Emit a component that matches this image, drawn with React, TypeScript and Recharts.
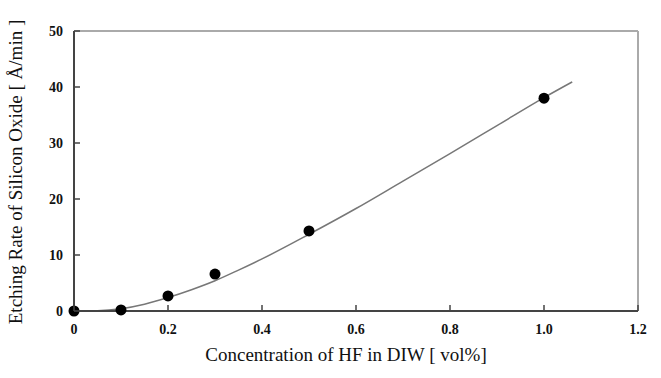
import {
  ComposedChart,
  Line,
  Scatter,
  XAxis,
  YAxis,
  ReferenceLine,
} from "recharts";

// measured points: HF concentration (vol%) vs etching rate (A/min)
const measuredConc = [0, 0.1, 0.2, 0.3, 0.5, 1.0];
const measuredRate = [0, 0.2, 2.7, 6.6, 14.3, 38.0];

// fitted curve
const fitConc = [0, 0.05, 0.1, 0.15, 0.2, 0.25, 0.3, 0.35, 0.4, 0.5, 0.6, 0.7, 0.8, 0.9, 1.0, 1.06];
const fitRate = [0, 0.05, 0.4, 1.2, 2.4, 3.8, 5.4, 7.3, 9.3, 13.7, 18.3, 23.2, 28.1, 33.1, 38.1, 40.9];

const xTicks = [0, 0.2, 0.4, 0.6, 0.8, 1.0, 1.2];
const xTickLabels = ["0", "0.2", "0.4", "0.6", "0.8", "1.0", "1.2"];
const yTicks = [0, 10, 20, 30, 40, 50];

const points = measuredConc.map((c, i) => ({ x: c, y: measuredRate[i] }));
const curve = fitConc.map((c, i) => ({ x: c, y: fitRate[i] }));

const FONT = "'Liberation Serif', 'Times New Roman', serif";
const AXIS = "#444";
const BOX = "#aaa";

function XTick(props: any) {
  const { x, y, payload } = props;
  const axisY = y - 13;
  const idx = xTicks.indexOf(payload.value);
  return (
    <g>
      <line x1={x} x2={x} y1={axisY} y2={axisY - 6} stroke={AXIS} strokeWidth={1.5} />
      <text x={x} y={y} dy="0.71em" textAnchor="middle" fontFamily={FONT} fontWeight="bold" fontSize={14} fill="#111">
        {idx >= 0 ? xTickLabels[idx] : payload.value}
      </text>
    </g>
  );
}

function YTick(props: any) {
  const { x, y, payload } = props;
  const axisX = x + 11;
  return (
    <g>
      <line x1={axisX} x2={axisX + 6} y1={y} y2={y} stroke={AXIS} strokeWidth={1.5} />
      <text x={x} y={y} dy="0.35em" textAnchor="end" fontFamily={FONT} fontWeight="bold" fontSize={14} fill="#111">
        {payload.value}
      </text>
    </g>
  );
}

export default function App() {
  return (
    <div style={{ position: "absolute", left: 0, top: 0, width: 661, height: 378, background: "#fff" }}>
      <ComposedChart
        width={661}
        height={378}
        margin={{ top: 31, right: 23, bottom: 37, left: 14 }}
      >
        <XAxis
          type="number"
          dataKey="x"
          domain={[0, 1.2]}
          ticks={xTicks}
          height={30}
          tickSize={0}
          tickMargin={13}
          tick={<XTick />}
          axisLine={{ stroke: AXIS, strokeWidth: 2 }}
          label={{
            content: () => (
              <text x={346} y={361} textAnchor="middle" fontFamily={FONT} fontSize={19} fill="#111">
                Concentration of HF in DIW [ vol%]
              </text>
            ),
          }}
        />
        <YAxis
          type="number"
          dataKey="y"
          domain={[0, 50]}
          ticks={yTicks}
          width={60}
          tickSize={0}
          tickMargin={11}
          tick={<YTick />}
          axisLine={{ stroke: AXIS, strokeWidth: 2 }}
          label={{
            content: () => (
              <text
                x={22}
                y={172}
                transform="rotate(-90 22 172)"
                textAnchor="middle"
                fontFamily={FONT}
                fontSize={19}
                fill="#111"
              >
                Etching Rate of Silicon Oxide [ Å/min ]
              </text>
            ),
          }}
        />
        <ReferenceLine y={50} stroke={BOX} strokeWidth={2} />
        <ReferenceLine x={1.2} stroke={BOX} strokeWidth={2} />
        <Line
          data={curve}
          dataKey="y"
          type="monotone"
          stroke="#777"
          strokeWidth={1.5}
          dot={false}
          isAnimationActive={false}
        />
        <Scatter
          data={points}
          dataKey="y"
          fill="#000"
          shape={(p: any) => <circle cx={p.cx} cy={p.cy} r={5.5} fill="#000" />}
          isAnimationActive={false}
        />
      </ComposedChart>
    </div>
  );
}
